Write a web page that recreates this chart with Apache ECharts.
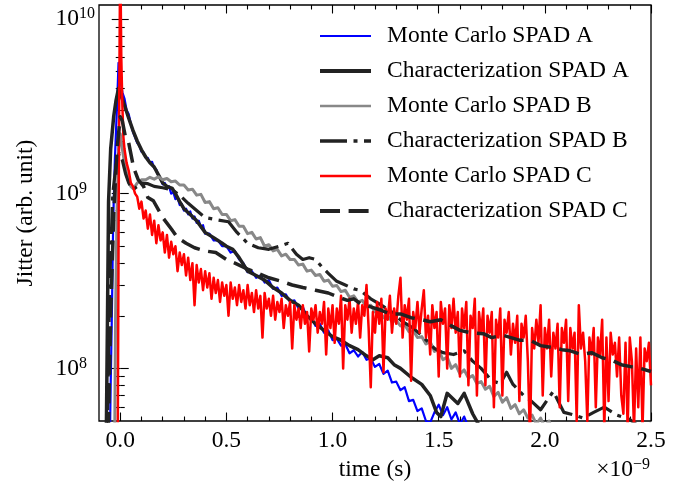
<!DOCTYPE html>
<html><head><meta charset="utf-8">
<script src="https://cdn.jsdelivr.net/npm/echarts@6/dist/echarts.min.js"></script>
<style>html,body{margin:0;padding:0;background:#fff}#c{width:693px;height:487px}</style>
</head><body><div id="c"></div>
<script>
const FONT = 'Liberation Serif';
const FS = 23.5;
const seriesNames = ['Monte Carlo SPAD A','Characterization SPAD A','Monte Carlo SPAD B','Characterization SPAD B','Monte Carlo SPAD C','Characterization SPAD C'];

// time in units of 1e-9 s, value in arb. unit
const mcA = [[-0.08,1e6],[-0.05,3e7],[-0.045,8e7],[-0.04,1.8e8],[-0.033,7.1e8],[-0.025,1.6e9],[-0.015,3.2e9],[-0.008,5.6e9],[0,4.6e9],[0.01,3.8e9],[0.02,3.5e9],[0.03,3.0e9],[0.04,2.85e9],[0.05,2.5e9],[0.06,2.25e9],[0.07,2.1e9],[0.08,1.95e9],[0.09,1.88e9],[0.10,1.74e9],[0.11,1.72e9],[0.12,1.6e9],[0.13,1.6e9],[0.14,1.5e9],[0.15,1.52e9],[0.16,1.4e9],[0.17,1.37e9],[0.18,1.26e9],[0.19,1.22e9],[0.20,1.13e9],[0.21,1.15e9],[0.22,1.07e9],[0.23,1.1e9],[0.24,1.0e9],[0.25,1.02e9],[0.26,9.3e8],[0.27,9.5e8],[0.28,8.6e8],[0.29,8.7e8],[0.30,8.0e8],[0.31,8.2e8],[0.32,7.6e8],[0.33,7.9e8],[0.34,7.2e8],[0.35,7.4e8],[0.36,6.8e8],[0.37,7.0e8],[0.38,6.4e8],[0.39,6.6e8],[0.40,5.9e8],[0.42,5.9e8],[0.44,5.4e8],[0.46,5.4e8],[0.48,5.0e8],[0.50,5.0e8],[0.52,4.6e8],[0.54,4.7e8],[0.56,4.2e8],[0.58,4.0e8],[0.60,3.55e8],[0.62,3.6e8],[0.64,3.3e8],[0.66,3.4e8],[0.68,3.1e8],[0.70,3.2e8],[0.72,2.85e8],[0.74,2.9e8],[0.76,2.6e8],[0.78,2.65e8],[0.80,2.4e8],[0.82,2.45e8],[0.84,2.2e8],[0.86,2.25e8],[0.88,1.95e8],[0.90,1.95e8],[0.92,1.75e8],[0.94,1.8e8],[0.96,1.6e8],[0.98,1.65e8],[1.00,1.45e8],[1.02,1.48e8],[1.04,1.35e8],[1.06,1.38e8],[1.08,1.22e8],[1.10,1.27e8],[1.12,1.17e8],[1.14,1.24e8],[1.16,1.12e8],[1.18,1.14e8],[1.20,1.02e8],[1.22,1.06e8],[1.24,9.3e7],[1.26,9.7e7],[1.28,8.3e7],[1.30,8.4e7],[1.32,7.5e7],[1.34,7.8e7],[1.36,6.5e7],[1.38,6.6e7],[1.40,5.7e7],[1.42,5.9e7],[1.44,5.0e7],[1.46,4.9e7],[1.48,5.6e7],[1.50,6.2e7],[1.52,5.4e7],[1.54,6.0e7],[1.56,5.1e7],[1.58,5.6e7],[1.60,4.8e7],[1.62,5.3e7],[1.64,4.6e7],[1.66,3.8e7],[1.70,2e7]];

const charA = [[-0.08,1e6],[-0.065,5e7],[-0.06,2e8],[-0.055,9e8],[-0.045,1.8e9],[-0.031,2.75e9],[-0.02,3.4e9],[-0.008,4.0e9],[0.005,3.6e9],[0.02,3.2e9],[0.04,2.7e9],[0.06,2.3e9],[0.08,2.0e9],[0.10,1.78e9],[0.12,1.62e9],[0.14,1.5e9],[0.16,1.42e9],[0.18,1.28e9],[0.20,1.15e9],[0.22,1.1e9],[0.245,1.07e9],[0.26,1.0e9],[0.28,9.0e8],[0.30,8.2e8],[0.33,7.6e8],[0.36,7.0e8],[0.40,6.0e8],[0.44,5.6e8],[0.48,5.2e8],[0.50,5.0e8],[0.53,4.8e8],[0.56,4.3e8],[0.60,3.6e8],[0.64,3.4e8],[0.68,3.2e8],[0.72,2.9e8],[0.76,2.7e8],[0.80,2.45e8],[0.84,2.3e8],[0.88,2.0e8],[0.92,1.8e8],[0.96,1.65e8],[1.00,1.52e8],[1.04,1.45e8],[1.08,1.35e8],[1.12,1.28e8],[1.16,1.18e8],[1.19,1.12e8],[1.22,1.18e8],[1.26,1.15e8],[1.29,1.05e8],[1.32,1.0e8],[1.37,8.9e7],[1.42,8.1e7],[1.46,7.0e7],[1.49,5.6e7],[1.51,5.3e7],[1.54,7.2e7],[1.59,6.3e7],[1.62,7.2e7],[1.66,5.5e7],[1.70,4.5e7],[1.75,3e7]];

const mcB = [[-0.04,1e6],[-0.026,4e7],[-0.022,2e8],[-0.015,8e8],[-0.008,1.8e9],[0,2.2e9],[0.01,1.8e9],[0.02,1.5e9],[0.03,1.3e9],[0.04,1.18e9],[0.05,1.1e9],[0.06,1.07e9],[0.07,1.1e9],[0.08,1.15e9],[0.09,1.17e9],[0.10,1.2e9],[0.12,1.2e9],[0.14,1.24e9],[0.16,1.21e9],[0.18,1.25e9],[0.20,1.2e9],[0.22,1.22e9],[0.24,1.17e9],[0.26,1.18e9],[0.28,1.12e9],[0.30,1.12e9],[0.32,1.05e9],[0.34,1.06e9],[0.36,9.8e8],[0.38,9.9e8],[0.40,8.9e8],[0.42,9.0e8],[0.44,8.2e8],[0.46,8.3e8],[0.48,7.6e8],[0.50,7.6e8],[0.52,7.0e8],[0.54,7.1e8],[0.56,6.5e8],[0.58,6.5e8],[0.60,5.9e8],[0.62,6.0e8],[0.64,5.5e8],[0.66,5.6e8],[0.68,5.0e8],[0.70,5.1e8],[0.72,4.7e8],[0.74,4.8e8],[0.76,4.4e8],[0.78,4.5e8],[0.80,4.2e8],[0.82,4.2e8],[0.84,3.9e8],[0.86,3.95e8],[0.88,3.6e8],[0.90,3.65e8],[0.92,3.4e8],[0.94,3.45e8],[0.96,3.15e8],[0.98,3.2e8],[1.00,2.95e8],[1.02,2.98e8],[1.04,2.75e8],[1.06,2.8e8],[1.08,2.55e8],[1.10,2.6e8],[1.12,2.4e8],[1.14,2.45e8],[1.16,2.25e8],[1.18,2.3e8],[1.20,2.1e8],[1.22,2.15e8],[1.24,1.95e8],[1.26,2.0e8],[1.28,1.85e8],[1.30,1.88e8],[1.32,1.75e8],[1.34,1.78e8],[1.36,1.62e8],[1.38,1.65e8],[1.40,1.5e8],[1.42,1.52e8],[1.44,1.38e8],[1.46,1.42e8],[1.48,1.25e8],[1.50,1.28e8],[1.52,1.12e8],[1.54,1.16e8],[1.56,1.0e8],[1.58,1.05e8],[1.60,9.3e7],[1.62,9.8e7],[1.64,8.8e7],[1.66,9.1e7],[1.68,8.2e7],[1.70,8.4e7],[1.72,7.6e7],[1.74,7.9e7],[1.76,6.9e7],[1.78,7.3e7],[1.80,6.4e7],[1.82,6.8e7],[1.84,5.9e7],[1.86,6.2e7],[1.88,5.5e7],[1.90,5.8e7],[1.92,5.2e7],[1.94,5.4e7],[1.96,4.8e7],[1.98,5.2e7],[2.00,4.6e7],[2.02,5.0e7],[2.04,4.2e7],[2.08,3e7]];

const charB = [[-0.075,1e6],[-0.06,5e7],[-0.05,3e8],[-0.035,1.0e9],[-0.02,1.45e9],[-0.005,1.7e9],[0.01,1.55e9],[0.025,1.3e9],[0.04,1.15e9],[0.06,1.05e9],[0.08,1.1e9],[0.10,1.15e9],[0.13,1.14e9],[0.16,1.1e9],[0.20,1.08e9],[0.245,1.05e9],[0.28,9.8e8],[0.32,8.8e8],[0.36,8.0e8],[0.40,7.3e8],[0.45,7.1e8],[0.51,6.9e8],[0.55,6.0e8],[0.60,5.2e8],[0.65,4.9e8],[0.70,4.8e8],[0.75,5.0e8],[0.79,5.2e8],[0.83,4.5e8],[0.86,4.2e8],[0.89,4.3e8],[0.92,4.2e8],[0.95,3.8e8],[0.98,3.5e8],[1.02,3.15e8],[1.06,3.0e8],[1.10,2.85e8],[1.13,2.8e8],[1.18,2.5e8],[1.23,2.3e8],[1.28,2.1e8],[1.33,1.85e8],[1.38,1.7e8],[1.43,1.5e8],[1.48,1.3e8],[1.52,1.23e8],[1.57,1.2e8],[1.62,1.26e8],[1.66,1.1e8],[1.70,1.0e8],[1.75,8.5e7],[1.79,8.2e7],[1.82,9.5e7],[1.85,8.1e7],[1.90,7.0e7],[1.93,6.6e7],[1.98,5.8e7],[2.04,7.4e7],[2.06,6.6e7],[2.09,5.6e7],[2.14,5.4e7],[2.18,5.2e7],[2.23,5.6e7],[2.28,6.0e7],[2.34,5.4e7],[2.40,5.1e7],[2.45,4.6e7],[2.50,4.8e7]];

const mcC = [[-0.03,1e6],[-0.012,3e7],[-0.006,2e9],[0,2.5e10],[0.005,6e9],[0.01,3.2e9],[0.015,2.1e9],[0.02,1.8e9],[0.03,1.5e9],[0.04,1.35e9],[0.05,1.15e9],[0.06,1.1e9],[0.07,1.0e9],[0.08,9.6e8],[0.09,8.2e8],[0.10,9.0e8],[0.11,7.2e8],[0.12,8.0e8],[0.13,6.3e8],[0.14,7.6e8],[0.15,5.8e8],[0.16,7.0e8],[0.17,5.2e8],[0.18,6.6e8],[0.19,5.4e8],[0.20,6.0e8],[0.21,4.6e8],[0.22,5.8e8],[0.23,4.3e8],[0.24,5.3e8],[0.25,4.5e8],[0.26,5.0e8],[0.27,3.6e8],[0.28,4.6e8],[0.29,3.9e8],[0.30,4.5e8],[0.31,3.4e8],[0.32,4.3e8],[0.33,3.2e8],[0.34,4.0e8],[0.35,2.3e8],[0.36,3.9e8],[0.37,3.1e8],[0.38,3.7e8],[0.39,2.8e8],[0.40,3.6e8],[0.41,2.9e8],[0.42,3.5e8],[0.43,2.5e8],[0.44,3.3e8],[0.45,2.7e8],[0.46,3.2e8],[0.47,2.4e8],[0.48,3.1e8],[0.49,2.6e8],[0.50,3.0e8],[0.51,2.0e8],[0.52,3.1e8],[0.53,2.5e8],[0.54,2.9e8],[0.55,2.3e8],[0.56,3.0e8],[0.57,2.4e8],[0.58,2.8e8],[0.59,2.2e8],[0.60,3.0e8],[0.61,2.3e8],[0.62,2.7e8],[0.63,2.1e8],[0.64,2.8e8],[0.65,2.2e8],[0.66,2.6e8],[0.67,1.5e8],[0.68,2.7e8],[0.69,2.2e8],[0.70,2.5e8],[0.71,2.0e8],[0.72,2.6e8],[0.73,1.9e8],[0.74,2.4e8],[0.75,2.1e8],[0.76,2.5e8],[0.77,1.7e8],[0.78,2.3e8],[0.79,2.0e8],[0.80,2.4e8],[0.81,1.3e8],[0.82,2.3e8],[0.83,1.9e8],[0.84,2.2e8],[0.85,1.7e8],[0.86,2.3e8],[0.87,1.8e8],[0.88,2.1e8],[0.89,1.25e8],[0.90,2.2e8],[0.91,1.9e8],[0.92,2.3e8],[0.93,1.6e8],[0.94,2.1e8],[0.95,1.8e8],[0.96,2.4e8],[0.97,1.2e8],[0.98,2.2e8],[0.99,1.7e8],[1.00,2.3e8],[1.01,1.4e8],[1.02,2.2e8],[1.03,1.8e8],[1.04,2.6e8],[1.05,1.0e8],[1.06,2.3e8],[1.07,1.9e8],[1.08,2.5e8],[1.09,1.6e8],[1.10,2.2e8],[1.11,1.8e8],[1.12,2.4e8],[1.13,1.5e8],[1.14,2.3e8],[1.15,2.0e8],[1.16,3.0e8],[1.17,1.7e8],[1.18,7.8e7],[1.19,2.1e8],[1.20,1.6e8],[1.21,2.4e8],[1.22,1.8e8],[1.23,2.5e8],[1.24,9.5e7],[1.25,2.2e8],[1.26,1.9e8],[1.27,2.6e8],[1.28,1.6e8],[1.29,2.2e8],[1.30,1.8e8],[1.31,2.6e8],[1.32,3.3e8],[1.33,1.5e8],[1.34,2.3e8],[1.35,1.9e8],[1.36,2.5e8],[1.37,8.5e7],[1.38,2.1e8],[1.39,1.7e8],[1.40,2.4e8],[1.41,1.6e8],[1.42,2.2e8],[1.43,2.8e8],[1.44,1.5e8],[1.45,2.0e8],[1.46,1.2e8],[1.47,2.3e8],[1.48,1.7e8],[1.49,2.1e8],[1.50,9.0e7],[1.51,2.4e8],[1.52,1.8e8],[1.53,2.2e8],[1.54,1.0e8],[1.55,2.3e8],[1.56,1.7e8],[1.57,2.5e8],[1.58,1.6e8],[1.59,2.1e8],[1.60,9.0e7],[1.61,2.2e8],[1.62,1.7e8],[1.63,2.4e8],[1.64,8.0e7],[1.65,2.0e8],[1.66,1.7e8],[1.67,2.5e8],[1.68,7.0e7],[1.69,2.1e8],[1.70,1.6e8],[1.71,2.2e8],[1.72,8.0e7],[1.73,2.0e8],[1.74,1.6e8],[1.75,2.1e8],[1.76,6.0e7],[1.77,1.9e8],[1.78,1.5e8],[1.79,2.2e8],[1.80,7.0e7],[1.81,1.9e8],[1.82,1.6e8],[1.83,2.1e8],[1.84,1.2e8],[1.85,1.8e8],[1.86,1.4e8],[1.87,2.0e8],[1.88,6.5e7],[1.89,1.8e8],[1.90,1.5e8],[1.91,2.0e8],[1.92,1.1e8],[1.93,4.0e7],[1.94,1.7e8],[1.95,1.3e8],[1.96,1.9e8],[1.97,1.4e8],[1.98,2.3e8],[1.99,7.0e7],[2.00,1.7e8],[2.01,1.3e8],[2.02,1.9e8],[2.03,9.0e7],[2.04,1.6e8],[2.05,1.3e8],[2.06,1.8e8],[2.07,6.0e7],[2.08,1.7e8],[2.09,1.4e8],[2.10,1.9e8],[2.11,6.5e7],[2.12,1.7e8],[2.13,1.3e8],[2.14,1.6e8],[2.15,5.0e7],[2.16,2.3e8],[2.17,1.3e8],[2.18,1.6e8],[2.19,1.1e8],[2.20,5.0e7],[2.21,1.5e8],[2.22,1.2e8],[2.23,1.7e8],[2.24,6.0e7],[2.25,1.5e8],[2.26,1.2e8],[2.27,1.9e8],[2.28,4.5e7],[2.29,1.5e8],[2.30,6.5e7],[2.31,1.6e8],[2.32,1.2e8],[2.33,1.4e8],[2.34,9.0e7],[2.35,1.5e8],[2.36,7.0e7],[2.37,5.5e7],[2.38,1.4e8],[2.39,4.5e7],[2.40,1.5e8],[2.41,1.1e8],[2.42,4.5e7],[2.43,1.3e8],[2.44,6.0e7],[2.45,1.5e8],[2.46,4.5e7],[2.47,1.3e8],[2.48,1.1e8],[2.49,1.4e8],[2.50,8.0e7]];

const charC = [[-0.07,1e6],[-0.055,5e7],[-0.045,2e8],[-0.03,8e8],[-0.015,1.8e9],[0,2.75e9],[0.01,2.6e9],[0.025,2.1e9],[0.04,1.95e9],[0.063,1.41e9],[0.085,1.2e9],[0.11,1.1e9],[0.13,9.5e8],[0.156,9.1e8],[0.20,7.3e8],[0.24,6.3e8],[0.27,5.6e8],[0.31,5.2e8],[0.35,4.9e8],[0.40,4.7e8],[0.45,4.6e8],[0.50,4.2e8],[0.54,4.0e8],[0.60,3.7e8],[0.65,3.5e8],[0.70,3.3e8],[0.76,3.15e8],[0.81,3.0e8],[0.86,2.9e8],[0.92,2.8e8],[0.98,2.7e8],[1.03,2.55e8],[1.07,2.45e8],[1.10,2.5e8],[1.13,2.35e8],[1.18,2.25e8],[1.23,2.15e8],[1.27,2.05e8],[1.32,2.05e8],[1.37,1.95e8],[1.42,1.9e8],[1.46,1.85e8],[1.51,1.9e8],[1.56,1.75e8],[1.60,1.65e8],[1.65,1.6e8],[1.71,1.58e8],[1.75,1.5e8],[1.80,1.55e8],[1.84,1.5e8],[1.88,1.45e8],[1.93,1.45e8],[1.98,1.35e8],[2.03,1.32e8],[2.08,1.28e8],[2.12,1.26e8],[2.17,1.2e8],[2.22,1.23e8],[2.27,1.15e8],[2.31,1.12e8],[2.36,1.05e8],[2.41,1.02e8],[2.45,1.0e8],[2.50,9.6e7]];

const xMajorTicks = [0, 0.5, 1.0, 1.5, 2.0, 2.5];
const xMinorTicks = [0.1,0.2,0.3,0.4,0.6,0.7,0.8,0.9,1.1,1.2,1.3,1.4,1.6,1.7,1.8,1.9,2.1,2.2,2.3,2.4];
const yMajorTicks = [1e8, 1e9, 1e10];
const yMinorTicks = [6e7,7e7,8e7,9e7,2e8,3e8,4e8,5e8,6e8,7e8,8e8,9e8,2e9,3e9,4e9,5e9,6e9,7e9,8e9,9e9];
const xRange = [-0.1, 2.5];
const yRange = [5e7, 1.2e10];

const seriesData = [mcA, charA, mcB, charB, mcC, charC];
const seriesColors = ['#0000ff','#222222','#888888','#222222','#ff0000','#222222'];
const seriesWidths = [2.2, 3.5, 3, 3.2, 2.5, 3.5];
const legendWidths = [2, 4, 2.5, 3.5, 2.5, 3.8];
const seriesDash = ['solid','solid','solid',[27,6.5,4,6.5],'solid',[20,8.6]];

const tickColor = '#000';
function xAxisDef(pos, major) {
  return {
    type: 'value', min: xRange[0], max: xRange[1], position: pos,
    axisLine: {show: false}, splitLine: {show: false},
    axisTick: {show: true, inside: true, length: major ? 8.5 : 4.5,
      customValues: major ? xMajorTicks : xMinorTicks, lineStyle: {color: tickColor, width: 1.1}},
    axisLabel: (pos === 'bottom' && major) ? {
      customValues: xMajorTicks, formatter: v => v.toFixed(1),
      fontFamily: FONT, fontSize: FS, color: '#000', margin: 8
    } : {show: false},
    name: (pos === 'bottom' && major) ? 'time (s)' : '',
    nameLocation: 'middle', nameGap: 30,
    nameTextStyle: {fontFamily: FONT, fontSize: FS, color: '#000'}
  };
}
function yAxisDef(pos, major) {
  return {
    type: 'log', logBase: 10, min: yRange[0], max: yRange[1], position: pos,
    axisLine: {show: false}, splitLine: {show: false}, minorTick: {show: false},
    axisTick: {show: true, inside: true, length: major ? 8.5 : 4.5,
      customValues: major ? yMajorTicks : yMinorTicks, lineStyle: {color: tickColor, width: 1.1}},
    axisLabel: (pos === 'left' && major) ? {
      customValues: yMajorTicks,
      formatter: v => {
        const e = String(Math.round(Math.log10(v)));
        return '{b|10}{' + (e.length > 1 ? 's' : 's1') + '|' + e + '}';
      },
      margin: 4, color: '#000',
      rich: {
        b: {fontFamily: FONT, fontSize: FS, color: '#000', lineHeight: 26},
        s: {fontFamily: FONT, fontSize: 16, color: '#000', verticalAlign: 'top', lineHeight: 13},
        s1: {fontFamily: FONT, fontSize: 16, color: '#000', verticalAlign: 'top', lineHeight: 13, padding: [0, 8, 0, 0]}
      }
    } : {show: false},
    name: (pos === 'left' && major) ? 'Jitter (arb. unit)' : '',
    nameLocation: 'middle', nameGap: 61,
    nameTextStyle: {fontFamily: FONT, fontSize: FS, color: '#000'}
  };
}

const chart = echarts.init(document.getElementById('c'), null, {renderer: 'canvas'});
chart.setOption({
  animation: false,
  backgroundColor: '#fff',
  textStyle: {fontFamily: FONT},
  grid: {left: 99, right: 42, top: 5, bottom: 66, show: true, borderColor: '#000', borderWidth: 1.3, backgroundColor: 'transparent'},
  xAxis: [xAxisDef('bottom', true), xAxisDef('bottom', false), xAxisDef('top', true), xAxisDef('top', false)],
  yAxis: [yAxisDef('left', true), yAxisDef('left', false), yAxisDef('right', true), yAxisDef('right', false)],
  legend: {
    orient: 'vertical', left: 318, top: 23, padding: 0,
    itemWidth: 51, itemHeight: 14, itemGap: 9,
    itemStyle: {opacity: 0, color: 'transparent', borderWidth: 0},
    textStyle: {fontFamily: FONT, fontSize: FS, color: '#000', lineHeight: 26, padding: [0, 0, 0, 11]},
    data: seriesNames.map((n, i) => ({
      name: n,
      itemStyle: {opacity: 0, color: 'transparent', borderWidth: 0},
      lineStyle: {color: seriesColors[i], width: legendWidths[i], type: seriesDash[i]}
    }))
  },
  graphic: [{
    type: 'text', right: 43, top: 457,
    style: {
      text: '{a|×10}{b|−9}',
      rich: {
        a: {fontFamily: FONT, fontSize: FS, fill: '#000', lineHeight: 26},
        b: {fontFamily: FONT, fontSize: 16, fill: '#000', verticalAlign: 'top', lineHeight: 13}
      }
    }
  }],
  series: seriesData.map((d, i) => ({
    name: seriesNames[i], type: 'line', data: d,
    xAxisIndex: 0, yAxisIndex: 0,
    symbol: 'none', showSymbol: false, clip: true, smooth: false,
    lineStyle: {color: seriesColors[i], width: seriesWidths[i], type: seriesDash[i], cap: 'butt', join: 'round'},
    itemStyle: {color: seriesColors[i]},
    emphasis: {disabled: true}
  }))
});
</script>
</body></html>
